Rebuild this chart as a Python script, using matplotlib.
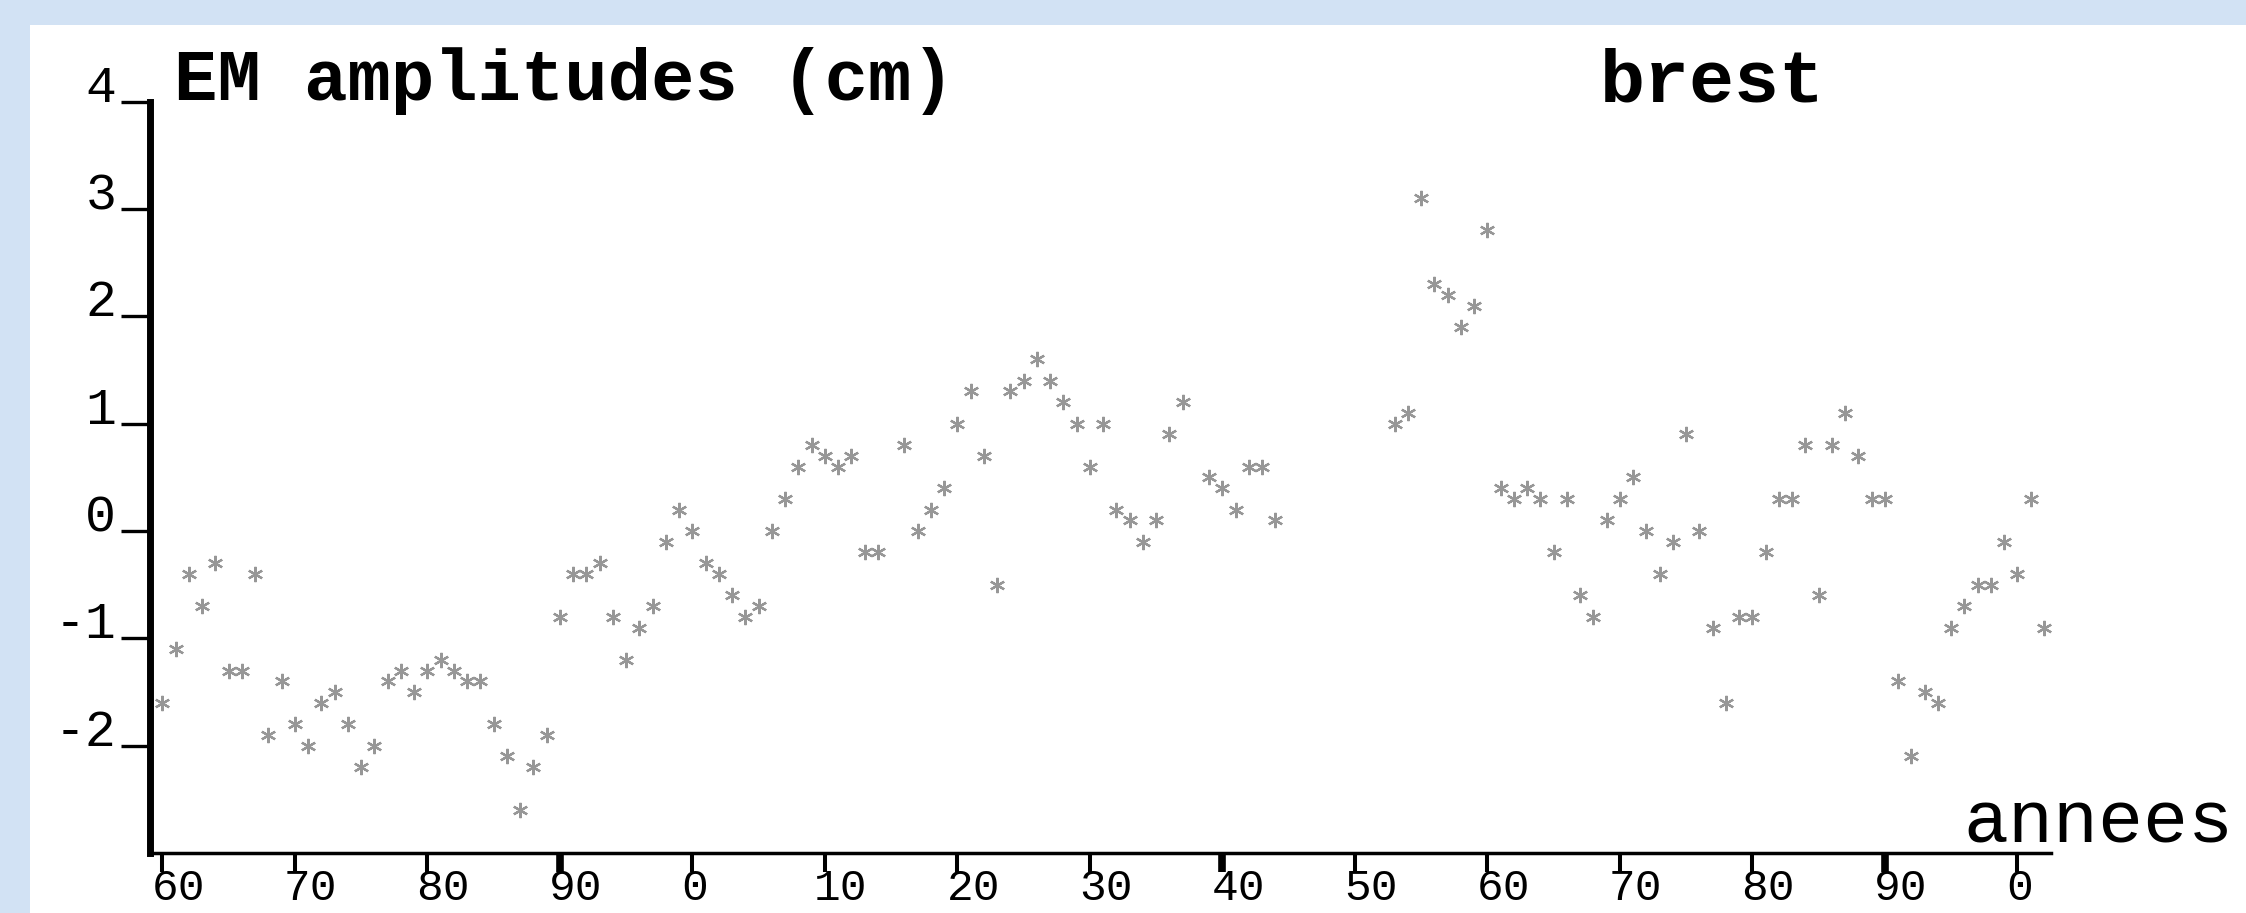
import numpy as np
import matplotlib.pyplot as plt
from matplotlib.patches import Rectangle
from matplotlib.transforms import ScaledTranslation

plt.rcParams['font.family'] = ['Liberation Mono', 'DejaVu Sans Mono']

nan = np.nan

# one value per year, 1860 -> 2002 (nan = no data)
years = np.arange(1860, 2003)
amplitudes = [
    -1.6, -1.1, -0.4, -0.7, -0.3, -1.3, -1.3, -0.4, -1.9, -1.4,   # 1860s
    -1.8, -2.0, -1.6, -1.5, -1.8, -2.2, -2.0, -1.4, -1.3, -1.5,   # 1870s
    -1.3, -1.2, -1.3, -1.4, -1.4, -1.8, -2.1, -2.6, -2.2, -1.9,   # 1880s
    -0.8, -0.4, -0.4, -0.3, -0.8, -1.2, -0.9, -0.7, -0.1, 0.2,    # 1890s
    0.0, -0.3, -0.4, -0.6, -0.8, -0.7, 0.0, 0.3, 0.6, 0.8,        # 1900s
    0.7, 0.6, 0.7, -0.2, -0.2, nan, 0.8, 0.0, 0.2, 0.4,           # 1910s
    1.0, 1.3, 0.7, -0.5, 1.3, 1.4, 1.6, 1.4, 1.2, 1.0,            # 1920s
    0.6, 1.0, 0.2, 0.1, -0.1, 0.1, 0.9, 1.2, nan, 0.5,            # 1930s
    0.4, 0.2, 0.6, 0.6, 0.1, nan, nan, nan, nan, nan,             # 1940s
    nan, nan, nan, 1.0, 1.1, 3.1, 2.3, 2.2, 1.9, 2.1,             # 1950s
    2.8, 0.4, 0.3, 0.4, 0.3, -0.2, 0.3, -0.6, -0.8, 0.1,          # 1960s
    0.3, 0.5, 0.0, -0.4, -0.1, 0.9, 0.0, -0.9, -1.6, -0.8,        # 1970s
    -0.8, -0.2, 0.3, 0.3, 0.8, -0.6, 0.8, 1.1, 0.7, 0.3,          # 1980s
    0.3, -1.4, -2.1, -1.5, -1.6, -0.9, -0.7, -0.5, -0.5, -0.1,    # 1990s
    -0.4, 0.3, -0.9,                                              # 2000s
]

xtick_years = [1860, 1870, 1880, 1890, 1900, 1910, 1920, 1930,
               1940, 1950, 1960, 1970, 1980, 1990, 2000]
xtick_labels = ['60', '70', '80', '90', '0', '10', '20', '30',
                '40', '50', '60', '70', '80', '90', '0']
ytick_values = [-2, -1, 0, 1, 2, 3, 4]
ytick_labels = ['-2', '-1', '0', '1', '2', '3', '4']

W, H = 2246, 913
fig = plt.figure(figsize=(W / 100, H / 100), dpi=100, facecolor='#d2e2f4')

# white sheet on the blue page
fig.add_artist(Rectangle((30 / W, 0), 1, 1 - 25 / H, transform=fig.transFigure,
                         facecolor='white', edgecolor='none', zorder=-10))

left, right = 149.5 / W, 2051 / W
bottom, top = 1 - 853 / H, 1 - 101.7 / H
ax = fig.add_axes([left, bottom, right - left, top - bottom])
ax.patch.set_visible(False)

ax.plot(years, amplitudes, linestyle='none', marker=(6, 2, 0),
        markersize=11, markeredgewidth=1.6, color='#979797')

ax.set_xlim(1859.03, 2002.53)
ax.set_ylim(-3, 4)

for s in ('top', 'right'):
    ax.spines[s].set_visible(False)
ax.spines['left'].set_linewidth(5)
ax.spines['bottom'].set_linewidth(2.5)

ax.set_xticks(xtick_years, xtick_labels)
ax.set_yticks(ytick_values, ytick_labels)
ax.tick_params(axis='y', direction='out', length=21, width=2.4, pad=3, labelsize=37)
ax.tick_params(axis='x', direction='out', length=14, width=2.9, pad=19.5, labelsize=32)

for lbl in ax.get_yticklabels():
    lbl.set_verticalalignment('baseline')
shift = ScaledTranslation(-0.11, 0, fig.dpi_scale_trans)
for lbl in ax.get_xticklabels():
    lbl.set_horizontalalignment('left')
    lbl.set_verticalalignment('baseline')
    lbl.set_transform(lbl.get_transform() + shift)

# some ticks are drawn heavier in the original
xt = ax.xaxis.get_major_ticks()
for i in (3, 8, 13):
    xt[i].tick1line.set_markeredgewidth(5.5)

fig.text(174 / W, 1 - 100 / H, 'EM amplitudes (cm)', fontsize=52,
         fontweight='bold', ha='left', va='baseline')
fig.text(1600 / W, 1 - 102 / H, 'brest', fontsize=54,
         fontweight='bold', ha='left', va='baseline')
fig.text(1963 / W, 1 - 842 / H, 'annees', fontsize=54,
         ha='left', va='baseline')

fig.savefig('out.png', dpi=100, facecolor=fig.get_facecolor())
